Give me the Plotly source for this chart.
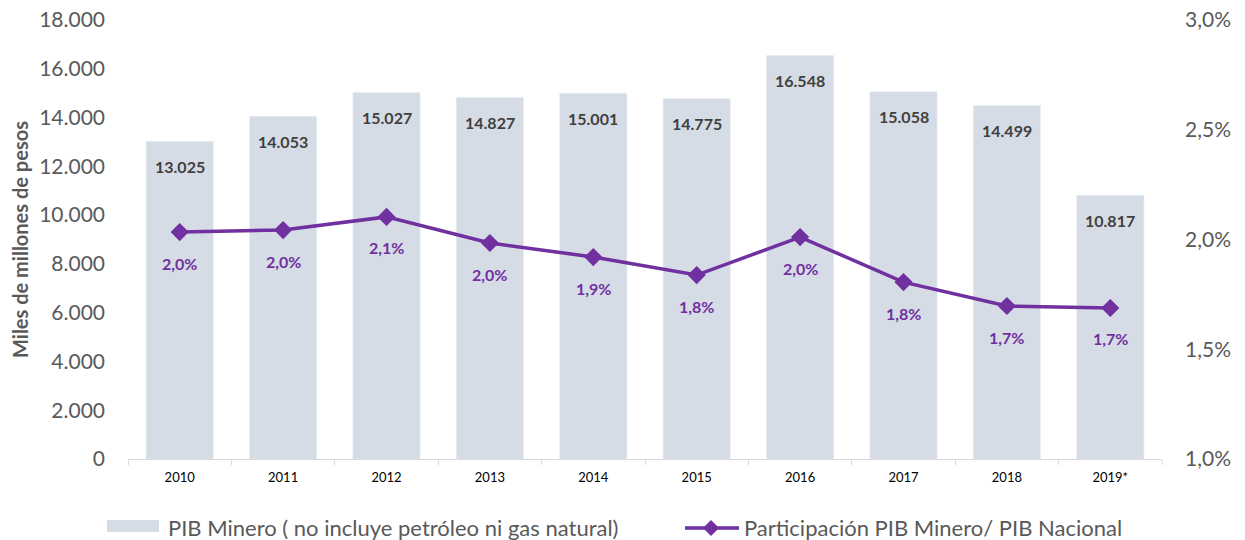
import plotly.graph_objects as go

years = ["2010", "2011", "2012", "2013", "2014", "2015", "2016", "2017", "2018", "2019*"]
pib_minero = [13025, 14053, 15027, 14827, 15001, 14775, 16548, 15058, 14499, 10817]
participacion = [2.034, 2.043, 2.103, 1.984, 1.920, 1.838, 2.011, 1.806, 1.697, 1.688]
left_ticks = [0, 2000, 4000, 6000, 8000, 10000, 12000, 14000, 16000, 18000]
right_ticks = [1.0, 1.5, 2.0, 2.5, 3.0]

name_bar = "PIB Minero ( no incluye petróleo ni gas natural)"
name_line = "Participación PIB Minero/ PIB Nacional"

BAR_COLOR = "#D6DCE5"
LINE_COLOR = "#7030A0"
GRAY = "#595959"
FONT = "Lato"

def miles(v):
    return f"{v:,.0f}".replace(",", ".")

def pct(v):
    return f"{v:.1f}%".replace(".", ",")

fig = go.Figure()
fig.add_trace(go.Bar(x=years, y=pib_minero, name=name_bar, marker_color=BAR_COLOR,
                     showlegend=False, hoverinfo="x+y"))
fig.add_trace(go.Scatter(x=years, y=participacion, name=name_line, yaxis="y2",
                         mode="lines+markers",
                         line=dict(color=LINE_COLOR, width=3.5),
                         marker=dict(symbol="diamond", size=14, color=LINE_COLOR),
                         showlegend=False))

annotations = []
for i, v in enumerate(pib_minero):
    annotations.append(dict(x=i, y=v, xref="x", yref="y", text=f"<b>{miles(v)}</b>",
                            showarrow=False, yshift=-25,
                            font=dict(family=FONT, size=16, color="#404040")))
for i, v in enumerate(participacion):
    annotations.append(dict(x=i, y=v, xref="x", yref="y2", text=f"<b>{pct(v)}</b>",
                            showarrow=False, yshift=-31,
                            font=dict(family=FONT, size=16, color=LINE_COLOR)))

# custom legend (paper coords: plot area x 128..1162 px, y 20..459 px)
W, H, L, B = 1034.0, 439.0, 128.0, 459.0
def px(x):
    return (x - L) / W
def py(y):
    return (B - y) / H

shapes = [
    dict(type="rect", xref="paper", yref="paper", x0=px(107), x1=px(159),
         y0=py(532), y1=py(520), fillcolor=BAR_COLOR, line=dict(width=0)),
    dict(type="line", xref="paper", yref="paper", x0=px(685), x1=px(739),
         y0=py(528), y1=py(528), line=dict(color=LINE_COLOR, width=3.5)),
    dict(type="path", xref="paper", yref="paper",
         path=f"M {px(703)} {py(528)} L {px(711)} {py(520)} L {px(719)} {py(528)} L {px(711)} {py(536)} Z",
         fillcolor=LINE_COLOR, line=dict(width=0)),
]
annotations.append(dict(x=px(166), y=py(527), xref="paper", yref="paper", text=name_bar,
                        showarrow=False, xanchor="left", yanchor="middle",
                        font=dict(family=FONT, size=22, color=GRAY)))
annotations.append(dict(x=px(742), y=py(527), xref="paper", yref="paper", text=name_line,
                        showarrow=False, xanchor="left", yanchor="middle",
                        font=dict(family=FONT, size=22, color=GRAY)))

fig.update_layout(
    width=1245, height=540,
    margin=dict(l=128, r=83, t=20, b=81),
    paper_bgcolor="white", plot_bgcolor="white",
    bargap=0.35,
    font=dict(family=FONT, color=GRAY),
    xaxis=dict(type="category", range=[-0.5, 9.5], automargin=False,
               showgrid=False, showline=True, linecolor="#D9D9D9",
               linewidth=1, ticks="outside", tickson="boundaries", ticklen=5,
               tickcolor="#D9D9D9", tickangle=0,
               tickfont=dict(family=FONT, size=13, color="#000000"),
               ticklabelstandoff=6),
    yaxis=dict(range=[0, 18000], tickvals=left_ticks, automargin=False,
               ticklabeloverflow="allow",
               ticktext=[miles(v) for v in left_ticks], showgrid=False, zeroline=False,
               showline=False, tickfont=dict(family=FONT, size=21, color=GRAY),
               ticklabelstandoff=22,
               title=dict(text="<b>Miles de millones de pesos</b>", standoff=5,
                          font=dict(family=FONT, size=20, color=GRAY))),
    yaxis2=dict(range=[1.0, 3.0], overlaying="y", side="right", tickvals=right_ticks,
                automargin=False, ticklabeloverflow="allow",
                ticktext=[pct(v) for v in right_ticks], showgrid=False, zeroline=False,
                showline=False, tickfont=dict(family=FONT, size=21, color=GRAY),
                ticklabelstandoff=22),
    annotations=annotations,
    shapes=shapes,
)

fig.write_html("out.html", config={"displayModeBar": False},
               post_script="document.body.style.margin='0px';")
